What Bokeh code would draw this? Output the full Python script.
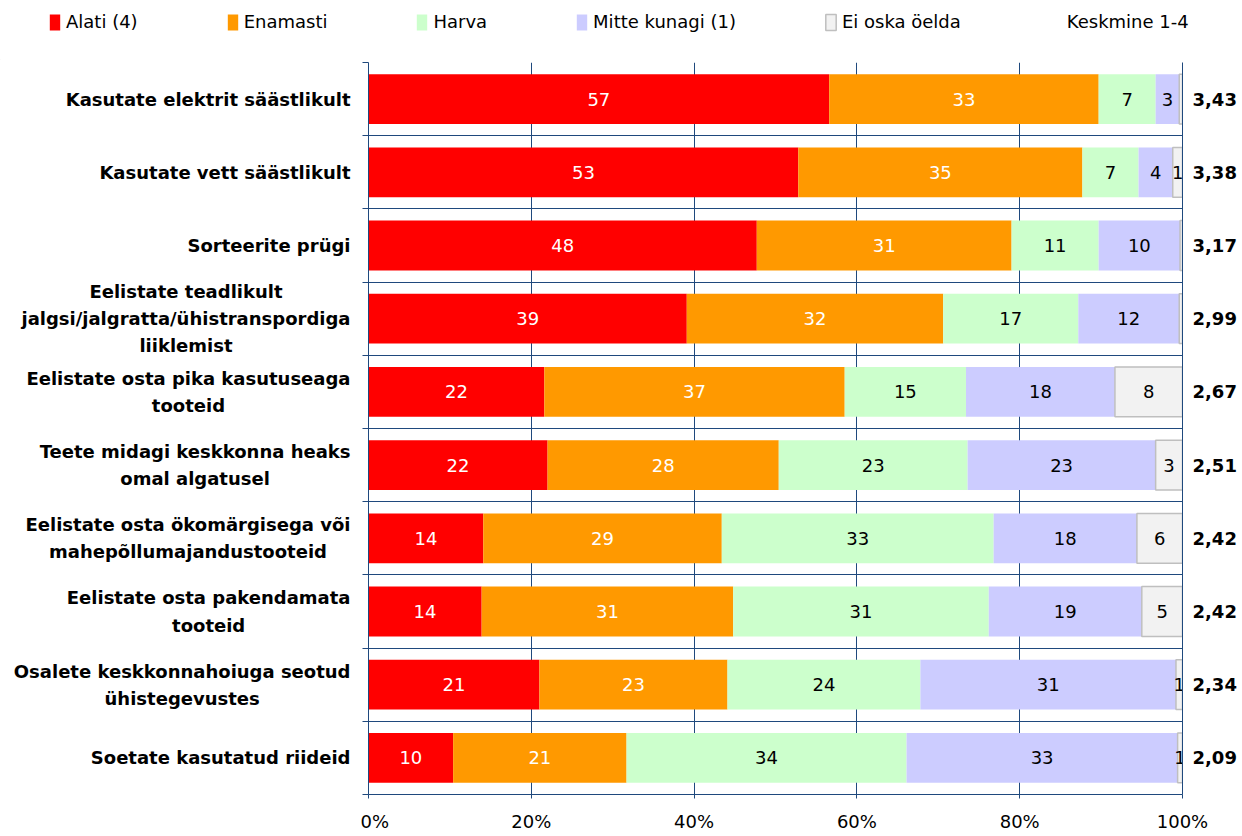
from bokeh.plotting import figure
from bokeh.layouts import column, row
from bokeh.models import (Range1d, FixedTicker, LinearAxis, Legend, LegendItem,
                          ColumnDataSource, PrintfTickFormatter)
from bokeh.core.properties import value
from bokeh.embed import file_html
from bokeh.resources import INLINE

# ---------------- data ----------------
categories = [
    "Kasutate elektrit säästlikult",
    "Kasutate vett säästlikult",
    "Sorteerite prügi",
    "Eelistate teadlikult\njalgsi/jalgratta/ühistranspordiga\nliiklemist",
    "Eelistate osta pika kasutuseaga\ntooteid",
    "Teete midagi keskkonna heaks\nomal algatusel",
    "Eelistate osta ökomärgisega või\nmahepõllumajandustooteid",
    "Eelistate osta pakendamata\ntooteid",
    "Osalete keskkonnahoiuga seotud\nühistegevustes",
    "Soetate kasutatud riideid",
]
alati = [56.6, 52.8, 47.7, 39.1, 21.6, 22.0, 14.1, 13.9, 21.0, 10.4]
enamasti = [33.1, 34.9, 31.3, 31.5, 36.9, 28.4, 29.3, 30.9, 23.1, 21.3]
harva = [7.0, 6.9, 10.7, 16.6, 14.9, 23.2, 33.4, 31.4, 23.7, 34.4]
mitte_kunagi = [2.9, 4.2, 10.0, 12.4, 18.3, 23.1, 17.6, 18.8, 31.4, 33.3]
ei_oska = [0.4, 1.2, 0.3, 0.4, 8.3, 3.3, 5.6, 5.0, 0.8, 0.6]
keskmine = ["3,43", "3,38", "3,17", "2,99", "2,67", "2,51", "2,42", "2,42", "2,34", "2,09"]
series_names = ["Alati (4)", "Enamasti", "Harva", "Mitte kunagi (1)", "Ei oska öelda"]
mean_title = "Keskmine 1-4"
x_ticks = [0, 20, 40, 60, 80, 100]

# ---------------- style ----------------
FONT = "DejaVu Sans"
NAVY = "#1F497D"
fill_colors = ["#FF0000", "#FF9900", "#CCFFCC", "#CCCCFF", "#F2F2F2"]
line_colors = [None, None, None, None, "#BFBFBF"]
text_colors = ["white", "white", "black", "black", "black"]

n = len(categories)
ys = [n - i - 0.5 for i in range(n)]
bounds = list(range(n + 1))

LEG_H = 60
MAIN_H = 774
LABEL_W = 360
TOTAL_W = 1240

# ---------------- main chart ----------------
p = figure(width=TOTAL_W - LABEL_W, height=MAIN_H, x_range=Range1d(0, 100),
           y_range=Range1d(0, n), output_backend="svg", toolbar_location=None,
           min_border_left=8, min_border_right=58, min_border_top=2, min_border_bottom=37)
p.outline_line_color = None
p.background_fill_color = "white"

p.xgrid.ticker = FixedTicker(ticks=x_ticks)
p.xgrid.grid_line_color = NAVY
p.xgrid.grid_line_width = 1
p.ygrid.ticker = FixedTicker(ticks=ys, minor_ticks=bounds)
p.ygrid.grid_line_color = None
p.ygrid.minor_grid_line_color = NAVY
p.ygrid.minor_grid_line_width = 1

xa = p.xaxis[0]
xa.ticker = FixedTicker(ticks=x_ticks)
xa.formatter = PrintfTickFormatter(format="%d%%")
xa.axis_line_color = NAVY
xa.major_tick_line_color = NAVY
xa.major_tick_in = 0
xa.major_tick_out = 4
xa.minor_tick_line_color = None
xa.major_label_text_font = FONT
xa.major_label_text_font_size = "18px"
xa.major_label_text_color = "black"
xa.major_label_standoff = 12

ya = p.yaxis[0]
ya.ticker = FixedTicker(ticks=ys, minor_ticks=bounds)
ya.major_label_overrides = {y: "" for y in ys}
ya.axis_line_color = NAVY
ya.major_tick_line_color = None
ya.major_tick_in = 0
ya.major_tick_out = 0
ya.minor_tick_line_color = NAVY
ya.minor_tick_in = 0
ya.minor_tick_out = 6
ya.major_label_standoff = 0

ra = LinearAxis(ticker=FixedTicker(ticks=ys))
ra.major_label_overrides = {y: m for y, m in zip(ys, keskmine)}
ra.axis_line_color = NAVY
ra.major_tick_line_color = None
ra.major_tick_in = 0
ra.major_tick_out = 0
ra.minor_tick_line_color = None
ra.major_label_text_font = FONT
ra.major_label_text_font_style = "bold"
ra.major_label_text_font_size = "18px"
ra.major_label_text_color = "black"
ra.major_label_standoff = 10
p.add_layout(ra, "right")

series = [alati, enamasti, harva, mitte_kunagi, ei_oska]
left = [0.0] * n
for k, vals in enumerate(series):
    right = [l + v for l, v in zip(left, vals)]
    src = ColumnDataSource(dict(
        y=ys, left=left, right=right,
        mid=[(l + r) / 2 for l, r in zip(left, right)],
        lab=[f"{v:.0f}" if round(v) >= 1 else "" for v in vals],
    ))
    p.hbar(y="y", left="left", right="right", height=0.68, source=src,
           fill_color=fill_colors[k], line_color=line_colors[k], line_width=1.5)
    p.text(x="mid", y="y", text="lab", source=src, text_align="center",
           text_baseline="middle", text_font=value(FONT), text_font_size="18px",
           text_color=text_colors[k])
    left = right

# ---------------- category labels ----------------
lf = figure(width=LABEL_W, height=MAIN_H, x_range=Range1d(0, LABEL_W), y_range=Range1d(0, n),
            output_backend="svg", toolbar_location=None,
            x_axis_location=None, y_axis_location=None,
            min_border_left=0, min_border_right=0, min_border_top=2, min_border_bottom=37)
lf.outline_line_color = None
lf.xgrid.visible = False
lf.ygrid.visible = False
lf.text(x=[350] * n, y=ys, text=categories, anchor="center_right", text_align="center",
        text_baseline="middle", text_font=value(FONT), text_font_style="bold",
        text_font_size="18px", text_line_height=1.3, text_color="black")

# ---------------- legend ----------------
lg = figure(width=TOTAL_W, height=LEG_H, x_range=Range1d(0, 1), y_range=Range1d(0, 1),
            output_backend="svg", toolbar_location=None,
            x_axis_location=None, y_axis_location=None,
            min_border_left=0, min_border_right=0, min_border_top=0, min_border_bottom=0)
lg.outline_line_color = None
lg.xgrid.visible = False
lg.ygrid.visible = False
items = []
for k, nm in enumerate(series_names):
    # legend-only renderer: a single zero-width bar placed outside the visible range
    r = lg.hbar(y=[-10], left=[-10], right=[-10], height=0.5,
                fill_color=fill_colors[k], line_color=line_colors[k], line_width=1.5)
    items.append(LegendItem(label=nm, renderers=[r]))
dummy = lg.hbar(y=[-10], left=[-10], right=[-10], height=0.5, fill_alpha=0, line_alpha=0)
items.append(LegendItem(label=mean_title, renderers=[dummy]))
legend = Legend(items=items, orientation="horizontal", location=(48, 28),
                spacing=88, glyph_width=13, glyph_height=20, label_standoff=5,
                padding=0, margin=0, border_line_color=None, background_fill_alpha=0,
                label_text_font=FONT, label_text_font_size="18px",
                label_text_color="black")
lg.add_layout(legend, "center")

layout = column(lg, row(lf, p, spacing=0), spacing=0)
open("out.html", "w").write(file_html(layout, INLINE))
